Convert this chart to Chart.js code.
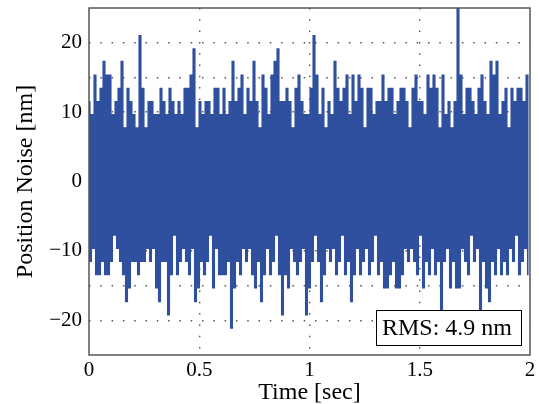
<!DOCTYPE html>
<html>
<head>
<meta charset="utf-8">
<script src="https://cdn.jsdelivr.net/npm/chart.js@4"></script>
<style>
  html, body { margin: 0; padding: 0; background: #fff; }
</style>
</head>
<body>
<canvas id="grafico" width="539" height="404"></canvas>
<script>
// Envelope of the noise per time bin (nm)
// picos positivos (max per bin)
var picosAltos = [
  11.5, 9.6, 15.3, 11.5, 13.4, 17.3, 15.3, 15.3, 9.6, 11.5,
  13.4, 17.3, 7.7, 13.4, 11.5, 9.6, 7.7, 21.0, 13.4, 7.7,
  11.5, 11.5, 9.6, 9.6, 13.4, 11.5, 9.6, 13.4, 11.5, 9.6,
  11.5, 9.6, 13.4, 13.4, 15.3, 19.1, 7.7, 11.5, 9.6, 11.5,
  11.5, 9.6, 13.4, 13.4, 9.6, 13.4, 9.6, 11.5, 17.3, 11.5,
  13.4, 15.3, 9.6, 13.4, 11.5, 17.3, 11.5, 7.7, 15.3, 13.4,
  9.6, 15.3, 17.3, 19.1, 11.5, 11.5, 13.4, 11.5, 7.7, 13.4,
  15.3, 11.5, 9.6, 9.6, 13.4, 21.0, 15.3, 9.6, 13.4, 7.7,
  11.5, 9.6, 17.3, 13.4, 11.5, 13.4, 15.3, 9.6, 15.3, 11.5,
  15.3, 13.4, 7.7, 13.4, 13.4, 9.6, 11.5, 11.5, 15.3, 11.5,
  13.4, 13.4, 9.6, 11.5, 13.4, 13.4, 11.5, 7.7, 13.4, 15.3,
  11.5, 11.5, 9.6, 15.3, 13.4, 15.3, 13.4, 7.7, 15.3, 9.6,
  11.5, 7.7, 11.5, 26.8, 15.3, 9.6, 13.4, 13.4, 11.5, 9.6,
  13.4, 15.3, 11.5, 9.6, 17.3, 15.3, 17.3, 9.6, 11.5, 13.4,
  7.7, 13.4, 11.5, 13.4, 13.4, 11.5, 15.3
];
// picos negativos (min per bin)
var picosBaixos = [
  -11.5, -9.6, -13.4, -13.4, -11.5, -13.4, -13.4, -11.5, -7.7, -9.6,
  -11.5, -13.4, -17.3, -15.3, -11.5, -11.5, -13.4, -11.5, -11.5, -9.6,
  -11.5, -9.6, -15.3, -17.3, -11.5, -11.5, -19.2, -13.4, -7.7, -13.4,
  -11.5, -9.6, -11.5, -13.4, -9.6, -17.3, -15.3, -11.5, -13.4, -11.5,
  -7.7, -15.3, -9.6, -13.4, -13.4, -13.4, -11.5, -21.1, -15.3, -11.5,
  -13.4, -9.6, -11.5, -9.6, -13.4, -15.3, -11.5, -17.3, -13.4, -9.6,
  -13.4, -11.5, -7.7, -13.4, -19.2, -13.4, -15.3, -9.6, -11.5, -13.4,
  -11.5, -9.6, -19.2, -15.3, -11.5, -7.7, -11.5, -17.3, -13.4, -9.6,
  -11.5, -9.6, -13.4, -11.5, -7.7, -13.4, -11.5, -17.3, -13.4, -9.6,
  -13.4, -11.5, -9.6, -13.4, -11.5, -7.7, -13.4, -11.5, -15.3, -15.3,
  -13.4, -11.5, -15.3, -15.3, -13.4, -9.6, -11.5, -9.6, -11.5, -13.4,
  -7.7, -15.3, -11.5, -13.4, -9.6, -13.4, -11.5, -19.2, -11.5, -9.6,
  -15.3, -11.5, -15.3, -15.3, -9.6, -11.5, -13.4, -7.7, -11.5, -9.6,
  -19.2, -11.5, -15.3, -17.3, -11.5, -13.4, -9.6, -13.4, -11.5, -13.4,
  -9.6, -11.5, -7.7, -13.4, -11.5, -9.6, -13.4
];

var duracao = 2;           // sec
var ticksX = [0, 0.5, 1, 1.5, 2];
var ticksY = [-20, -10, 0, 10, 20];
var textoRms = 'RMS: 4.9 nm';

var fonte = '"Liberation Serif", "Times New Roman", serif';

// monta os pontos: cada bin sobe ao pico e desce ao vale
var passo = duracao / picosAltos.length;
var pontos = [];
for (var i = 0; i < picosAltos.length; i++) {
    pontos.push({ x: i * passo, y: picosAltos[i] });
    pontos.push({ x: i * passo + passo / 2, y: picosBaixos[i] });
}

function menos(v) {
    return v < 0 ? '\u2212' + Math.abs(v) : String(v);
}

// moldura e caixa do RMS
const moldura = {
    id: 'moldura',
    afterDatasetsDraw(chart) {
        const { ctx, chartArea } = chart;
        ctx.save();
        ctx.strokeStyle = '#555';
        ctx.lineWidth = 1.5;
        ctx.strokeRect(chartArea.left, chartArea.top,
            chartArea.right - chartArea.left, chartArea.bottom - chartArea.top);

        const w = 145, h = 35;
        const x = chartArea.right - 9 - w;
        const y = chartArea.bottom - 10 - h;
        ctx.fillStyle = '#fff';
        ctx.fillRect(x, y, w, h);
        ctx.strokeStyle = '#000';
        ctx.lineWidth = 1;
        ctx.strokeRect(x + 0.5, y + 0.5, w, h);
        ctx.fillStyle = '#000';
        ctx.font = '24px ' + fonte;
        ctx.textBaseline = 'middle';
        ctx.fillText(textoRms, x + 6, y + h / 2 + 1);
        ctx.restore();
    }
};

const ctxRuido = document.getElementById('grafico').getContext('2d');
const graficoRuido = new Chart(ctxRuido, {
    type: 'line',
    data: {
        datasets: [{
            data: pontos,
            borderColor: '#2f4f9f',
            borderWidth: 1.6,
            pointRadius: 0,
            stepped: 'middle'   // degraus: patamares quantizados como no original
        }]
    },
    options: {
        responsive: false,
        animation: false,
        layout: { padding: { top: 8, right: 9, left: 0, bottom: 0 } },
        plugins: {
            legend: { display: false },
            tooltip: { enabled: false }
        },
        scales: {
            x: {
                type: 'linear',
                min: 0,
                max: duracao,
                afterBuildTicks: function (s) { s.ticks = ticksX.map(v => ({ value: v })); },
                afterFit: function (s) { s.height = 49; s.paddingLeft = 0; s.paddingRight = 0; },
                border: { display: false, dash: [1.5, 9.8] },
                grid: {
                    drawTicks: false,
                    color: c => (c.tick && (c.tick.value === 0 || c.tick.value === duracao)) ? 'transparent' : '#555',
                    lineWidth: 1.4
                },
                ticks: {
                    padding: 3,
                    color: '#000',
                    maxRotation: 0,
                    font: { family: fonte, size: 21 },
                    callback: v => String(v)
                },
                title: {
                    display: true,
                    text: 'Time [sec]',
                    color: '#000',
                    font: { family: fonte, size: 24, lineHeight: 1 },
                    padding: { top: 0, bottom: -1 }
                }
            },
            y: {
                min: -25,
                max: 25,
                ticks: {
                    stepSize: 5,
                    padding: 7,
                    color: '#000',
                    font: { family: fonte, size: 21 },
                    callback: v => ticksY.indexOf(v) >= 0 ? menos(v) : ''
                },
                afterFit: function (s) { s.width = 89; s.paddingTop = 0; s.paddingBottom = 0; },
                border: { display: false, dash: [1.5, 9.8] },
                grid: {
                    drawTicks: false,
                    color: c => (c.tick && Math.abs(c.tick.value) === 25) ? 'transparent' : '#555',
                    lineWidth: 1.4
                },
                title: {
                    display: true,
                    text: 'Position Noise [nm]',
                    color: '#000',
                    font: { family: fonte, size: 24, lineHeight: 1 },
                    padding: { top: 14, bottom: 0 }
                }
            }
        }
    },
    plugins: [moldura]
});
</script>
</body>
</html>
